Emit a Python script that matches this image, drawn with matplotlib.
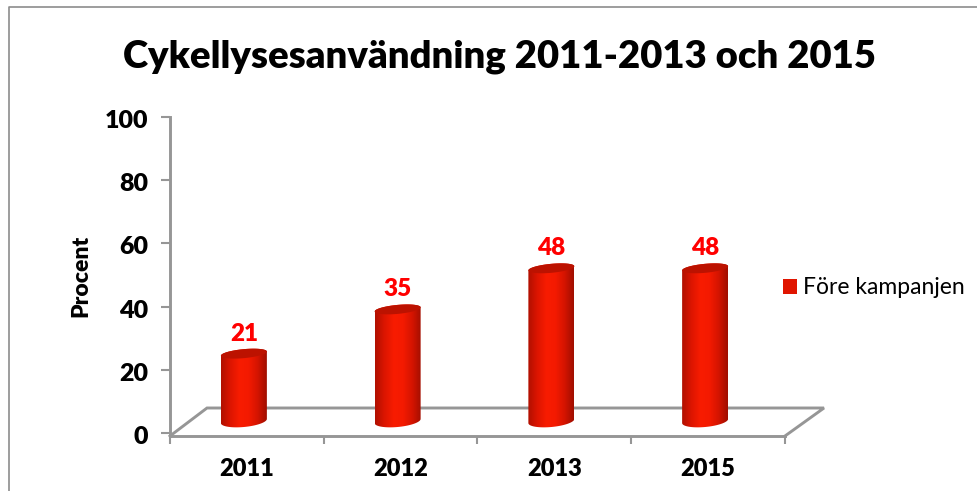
import numpy as np
import matplotlib
matplotlib.use("Agg")
import matplotlib.pyplot as plt
from matplotlib.colors import LinearSegmentedColormap
from matplotlib.patches import Patch, Polygon
from matplotlib.transforms import ScaledTranslation

plt.rcParams['font.family'] = ['Lato', 'DejaVu Sans']

# Data
years = ['2011', '2012', '2013', '2015']
values = [21, 35, 48, 48]
y_ticks = [0, 20, 40, 60, 80, 100]
title = 'Cykellysesanvändning 2011-2013 och 2015'
legend_label = 'Före kampanjen'

W, H = 978, 491
GREY = '#969696'
bar_cmap = LinearSegmentedColormap.from_list(
    'cyl', ['#b01000', '#dc1500', '#f81c00', '#f41a00', '#d41400', '#a00e00'])

fig = plt.figure(figsize=(W / 100, H / 100), dpi=100)

# Plot area: x 170-785 px, y axis 0 at 433 px and 100 at 117 px
PX_Y = 3.16
PX_X = 615 / 4
ax = fig.add_axes([170 / W, 1 - 436 / H, 615 / W, (436 - 117) / H])
ax.set_xlim(0, 4)
ax.set_ylim(-3 / PX_Y, 100)


def to_x(px):
    return px / PX_X


def to_y(px):
    return px / PX_Y


# Floor of the 3D plot
floor_x = [0, to_x(37), to_x(654), to_x(615)]
floor_y = [-3 / PX_Y, to_y(25), to_y(25), -3 / PX_Y]
ax.plot(floor_x, floor_y, color=GREY, lw=2.1, clip_on=False, zorder=2,
        solid_joinstyle='miter')


def ellipse(cx, cy, t, amp=4.5):
    # slanted ellipse, 23 px half width
    ex = 23 * np.cos(t)
    ey = amp * np.sin(t) + 0.09 * ex
    return cx + to_x(ex), cy + to_y(ey)


# Cylinders
for i, v in enumerate(values):
    cx = i + 0.5 - to_x(3)
    base = to_y(13)
    top = base + v

    t_low = np.linspace(np.pi, 2 * np.pi, 60)
    t_up = np.linspace(0, np.pi, 60)
    bx, by = ellipse(cx, to_y(12), t_low, amp=6)
    tx, ty = ellipse(cx, top, t_up)
    outline = np.column_stack([np.r_[bx, tx], np.r_[by, ty]])
    body = Polygon(outline, closed=True, fc='none', ec='none', transform=ax.transData)
    ax.add_patch(body)
    im = ax.imshow(np.linspace(0, 1, 128).reshape(1, -1), cmap=bar_cmap, aspect='auto',
                   extent=[cx - to_x(23), cx + to_x(23), -5, top + 5], zorder=3)
    im.set_clip_path(body)

    t = np.linspace(0, 2 * np.pi, 120)
    ex, ey = ellipse(cx, top, t)
    ax.fill(ex, ey, color='#bc1200', lw=0, zorder=4)

    ax.text(cx, top + to_y(20), str(v), color='#ff0000', fontsize=17.5,
            fontweight='heavy', ha='center', va='center', zorder=5)

ax.set_xlim(0, 4)
ax.set_ylim(-3 / PX_Y, 100)

# Axes
for side in ['top', 'right']:
    ax.spines[side].set_visible(False)
for side in ['left', 'bottom']:
    ax.spines[side].set_color(GREY)
    ax.spines[side].set_linewidth(2.1)

ax.set_yticks(y_ticks)
ax.set_yticklabels([str(t) for t in y_ticks], fontsize=18, fontweight='heavy')
ax.tick_params(axis='y', length=6.5, width=1.5, color=GREY, pad=9)
shift = ScaledTranslation(0, -1.5 / 72, fig.dpi_scale_trans)
for lab in ax.get_yticklabels():
    lab.set_transform(lab.get_transform() + shift)
ax.set_xticks(range(5))
ax.set_xticklabels([])
ax.tick_params(axis='x', which='major', length=6, width=1.5, color=GREY)
ax.set_xticks(np.arange(4) + 0.5, minor=True)
ax.set_xticklabels(years, minor=True, fontsize=17, fontweight='heavy')
ax.tick_params(axis='x', which='minor', length=0, pad=16)
ax.patch.set_alpha(0)

fig.text(81 / W, 1 - 276 / H, 'Procent', rotation=90, fontsize=16.5, fontweight='heavy',
         ha='center', va='center')
fig.text(500 / W, 1 - 57 / H, title, fontsize=27.5, fontweight='heavy', ha='center', va='center')

handle = Patch(facecolor='#e01500', edgecolor='none')
fig.legend([handle], [legend_label], loc='center left', bbox_to_anchor=(762.5 / W, 1 - 288 / H),
           frameon=False, fontsize=16.5, handlelength=0.61, handleheight=0.61, handletextpad=0.26)

# Outer frame, left and top edges only
fig.add_artist(plt.Line2D([8.5 / W, 8.5 / W, 1], [0, 1 - 6.5 / H, 1 - 6.5 / H], color='#8c8c8c', lw=1.2))

fig.savefig('out.png', dpi=100)
